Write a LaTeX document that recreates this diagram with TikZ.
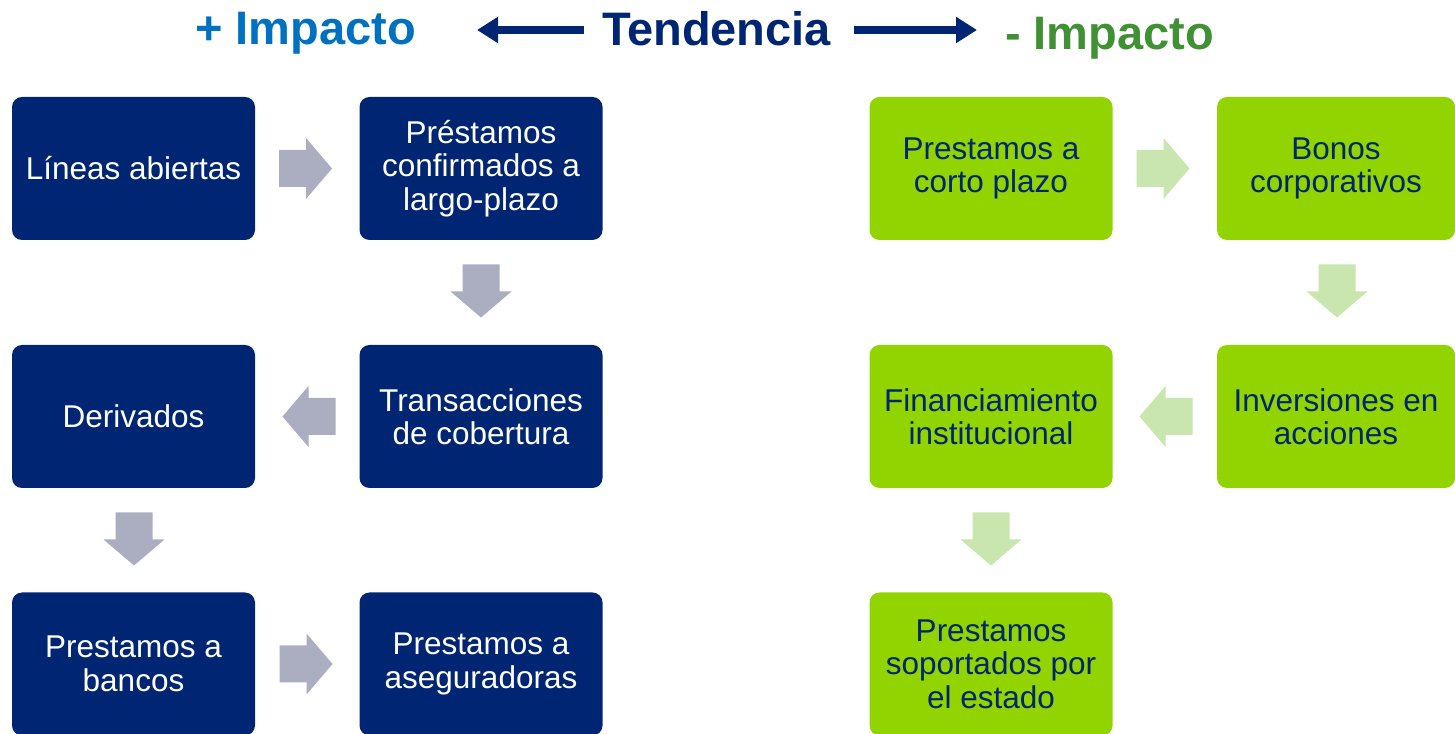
\documentclass[tikz,border=0pt]{standalone}
\usepackage{fontspec}
\setmainfont{Liberation Sans}
\usetikzlibrary{arrows.meta}
\definecolor{navy}{RGB}{0,38,115}
\definecolor{lime}{RGB}{146,212,0}
\definecolor{greyarrow}{RGB}{171,173,192}
\definecolor{lightgreen}{RGB}{200,230,174}
\definecolor{titleblue}{RGB}{0,112,192}
\definecolor{titlegreen}{RGB}{64,145,52}
\tikzset{
  x=1pt,y=1pt,
  box/.style={rounded corners=10pt, minimum height=143pt, inner sep=2pt, align=center,
    font=\fontsize{31.5}{33.5}\selectfont},
  bluebox/.style={box, fill=navy, text=white, minimum width=243pt},
  greenbox/.style={box, fill=lime, text=navy, minimum width=240pt},
  titletext/.style={inner sep=0pt, anchor=base west, font=\fontsize{47}{50}\selectfont\bfseries},
  tarrow/.style={draw=navy, line width=8pt, -{Triangle[length=21pt,width=25pt]}},
  blockarrow/.pic={\fill (-26.5,-18.5) -- (0.5,-18.5) -- (0.5,-30.5) -- (26.5,0) -- (0.5,30.5) -- (0.5,18.5) -- (-26.5,18.5) -- cycle;}
}
\begin{document}
\begin{tikzpicture}
\useasboundingbox (0,0) rectangle (1455,733);
% titles
\node[titletext, text=titleblue] (plus) at (195,688) {+ Impacto};
\node[titletext, text=navy, anchor=base] (tend) at (716.5,687) {Tendencia};
\node[titletext, text=titlegreen] (minus) at (1005,683) {- Impacto};
\coordinate (la) at (477,703);
\coordinate (ra) at (977,703);
\coordinate (ls) at ([xshift=-18pt]tend.west);
\coordinate (rs) at ([xshift=23pt]tend.east);
\draw[tarrow] (ls |- la) -- (la);
\draw[tarrow] (rs |- ra) -- (ra);
% left boxes
\node[bluebox] (b1) at (133.5,564.5) {Líneas abiertas};
\node[bluebox] (b2) at (481,564.5) {Préstamos\\confirmados a\\largo-plazo};
\node[bluebox] (b3) at (481,316.5) {Transacciones\\de cobertura};
\node[bluebox] (b4) at (133.5,316.5) {Derivados};
\node[bluebox] (b5) at (133.5,69) {Prestamos a\\bancos};
\node[bluebox] (b6) at (481,69) {Prestamos a\\aseguradoras};
% right boxes
\node[greenbox, minimum width=243pt] (g1) at (991,564.5) {Prestamos a\\corto plazo};
\node[greenbox, minimum width=238pt] (g2) at (1336,564.5) {Bonos\\corporativos};
\node[greenbox, minimum width=238pt] (g3) at (1336,316.5) {Inversiones en\\acciones};
\node[greenbox, minimum width=243pt] (g4) at (991,316.5) {Financiamiento\\institucional};
\node[greenbox, minimum width=243pt] (g5) at (991,69) {Prestamos\\soportados por\\el estado};
% grey block arrows
\begin{scope}[greyarrow]
\pic at (305.5,564.5) {blockarrow};
\pic[rotate=-90] at (481,442) {blockarrow};
\pic[rotate=180] at (309,316.5) {blockarrow};
\pic[rotate=-90] at (134,194) {blockarrow};
\pic at (306,69) {blockarrow};
\end{scope}
% green block arrows
\begin{scope}[lightgreen]
\pic at (1163,564.5) {blockarrow};
\pic[rotate=-90] at (1337,442) {blockarrow};
\pic[rotate=180] at (1166,316.5) {blockarrow};
\pic[rotate=-90] at (991,194) {blockarrow};
\end{scope}
\end{tikzpicture}
\end{document}
